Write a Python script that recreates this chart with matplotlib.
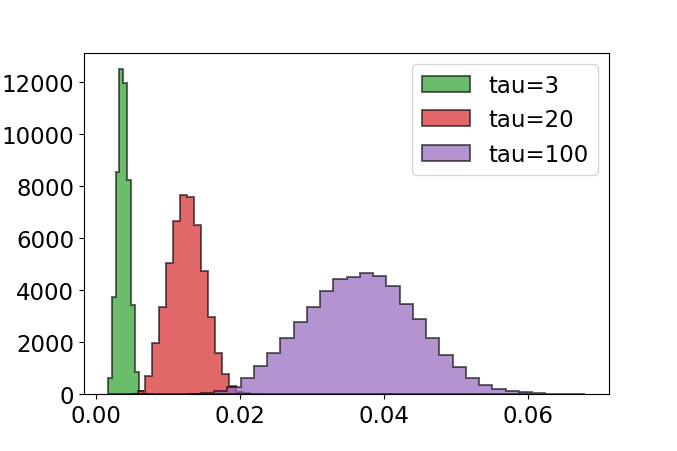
import numpy as np
import matplotlib
matplotlib.use("Agg")
import matplotlib.pyplot as plt
from matplotlib.colors import to_rgba

# bin edges: start, width, counts per bin
tau3_start = 0.00165
tau3_width = 0.000535
tau3_counts = [603, 3727, 8540, 12486, 11975, 8233, 3419, 860, 127, 20, 4, 1]

tau20_start = 0.00482
tau20_width = 0.000972
tau20_counts = [15, 127, 680, 1948, 3354, 5033, 6646, 7645, 7580, 6504, 4737,
                2946, 1575, 780, 296, 80, 20, 5]

tau100_start = 0.01274
tau100_width = 0.00184
tau100_counts = [5, 30, 100, 270, 600, 1060, 1580, 2150, 2760, 3360, 3950, 4420,
                 4500, 4660, 4530, 4140, 3470, 2890, 2145, 1510, 1035, 613, 345,
                 190, 115, 65, 30, 15, 6, 2]

labels = ["tau=3", "tau=20", "tau=100"]
colors = ["tab:green", "tab:red", "tab:purple"]

series = [(tau3_start, tau3_width, tau3_counts),
          (tau20_start, tau20_width, tau20_counts),
          (tau100_start, tau100_width, tau100_counts)]

fig = plt.figure(figsize=(6.77, 4.52), dpi=100)
ax = fig.add_axes([84/677, 57/452, 525/677, 341/452])

for (start, width, counts), lab, col in zip(series, labels, colors):
    edges = start + width*np.arange(len(counts) + 1)
    ax.hist(edges[:-1], bins=edges, weights=counts, histtype="stepfilled",
            facecolor=to_rgba(col, 0.7), edgecolor=(0, 0, 0, 0.6),
            linewidth=1.4, label=lab)

ax.tick_params(labelsize=16.5)
ax.legend(fontsize=16.5, handlelength=2.1)

fig.savefig("out.png", dpi=100)
